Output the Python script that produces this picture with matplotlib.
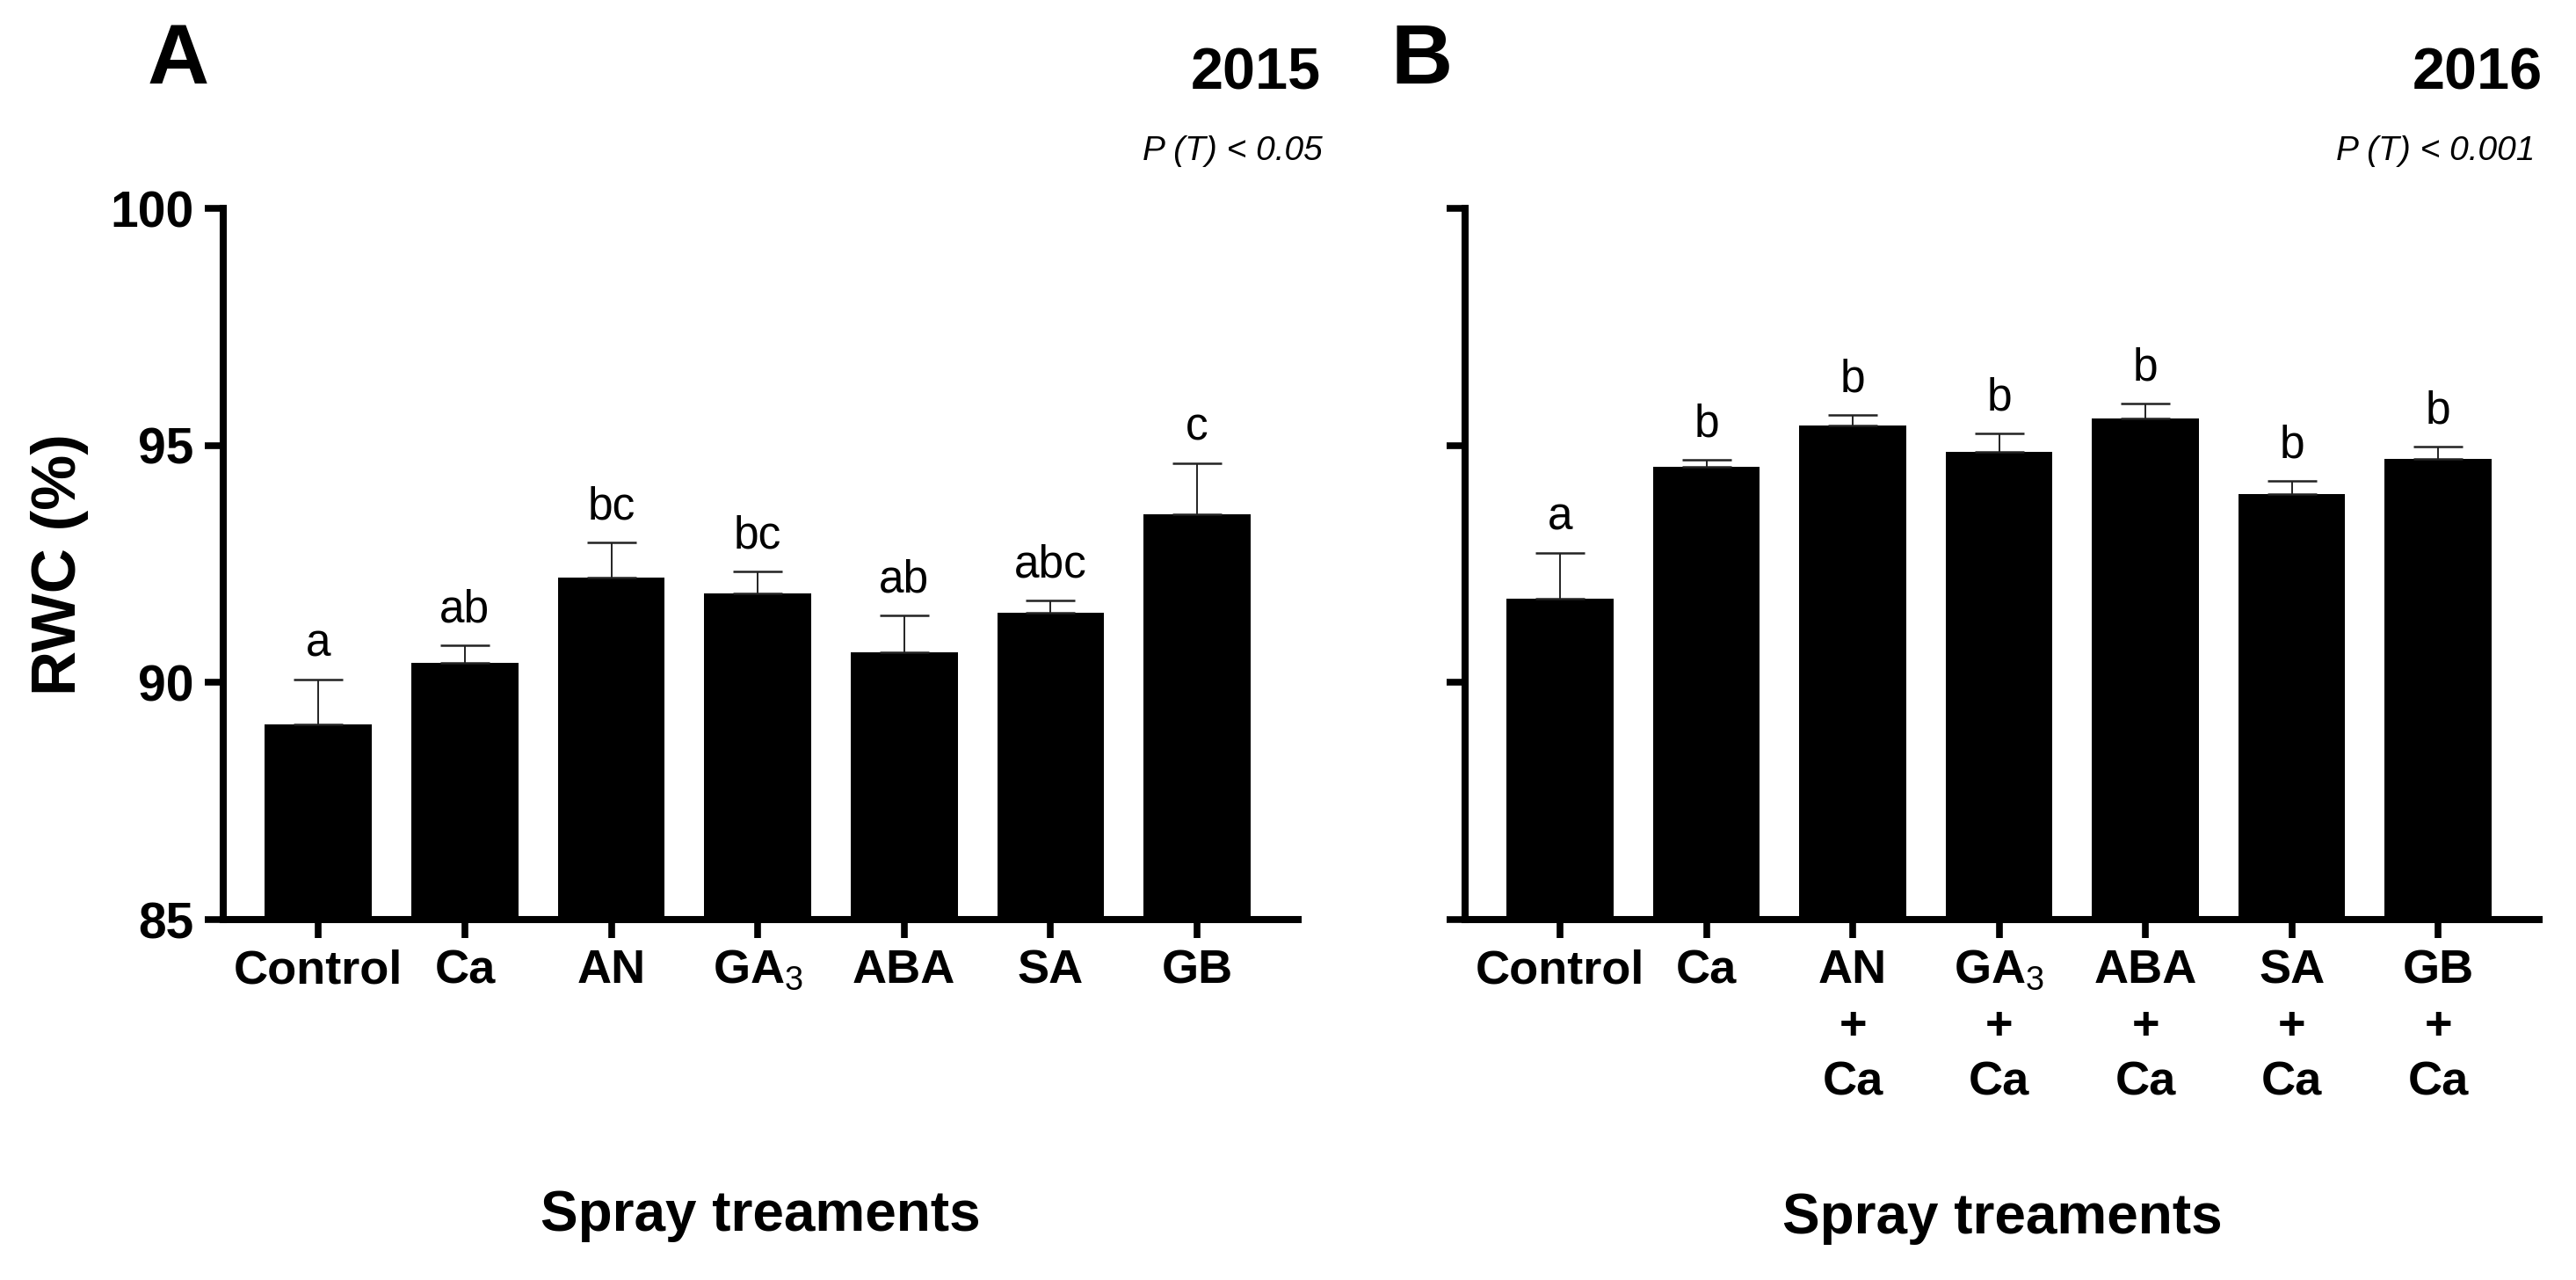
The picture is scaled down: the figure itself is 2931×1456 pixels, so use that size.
import numpy as np
import matplotlib
matplotlib.use('Agg')
import matplotlib.pyplot as plt

plt.rcParams['font.family'] = ['Liberation Sans', 'DejaVu Sans']
plt.rcParams['mathtext.fontset'] = 'custom'
plt.rcParams['mathtext.rm'] = 'Liberation Sans'

# RWC (%) means and upper errors
labels_2015 = ['Control', 'Ca', 'AN', 'GA$_{\\rm 3}$', 'ABA', 'SA', 'GB']
rwc_2015 = [89.12, 90.41, 92.21, 91.88, 90.64, 91.48, 93.54]
err_2015 = [0.95, 0.37, 0.75, 0.47, 0.77, 0.25, 1.08]
letters_2015 = ['a', 'ab', 'bc', 'bc', 'ab', 'abc', 'c']

labels_2016 = ['Control', 'Ca', 'AN\n+\nCa', 'GA$_{\\rm 3}$\n+\nCa', 'ABA\n+\nCa',
               'SA\n+\nCa', 'GB\n+\nCa']
rwc_2016 = [91.77, 94.54, 95.42, 94.87, 95.57, 93.98, 94.72]
err_2016 = [0.96, 0.16, 0.22, 0.39, 0.32, 0.28, 0.25]
letters_2016 = ['a', 'b', 'b', 'b', 'b', 'b', 'b']

W, H = 2931, 1456
fig = plt.figure(figsize=(W / 100, H / 100), dpi=100)

ax_bottom = 1 - 1046 / H
ax_height = (1046 - 237) / H
axA = fig.add_axes([254 / W, ax_bottom, (1477 - 254) / W, ax_height])
axB = fig.add_axes([1667 / W, ax_bottom, (2889 - 1667) / W, ax_height])


def draw_panel(ax, labels, vals, errs, letters, show_ylabels):
    x = np.arange(len(vals))
    ax.bar(x, vals, width=0.73, color='black', zorder=2)
    ax.errorbar(x, vals, yerr=[np.zeros(len(errs)), errs], fmt='none',
                ecolor='#222222', elinewidth=1.4, capsize=20, capthick=1.8, zorder=3)
    for xi, v, e, t in zip(x, vals, errs, letters):
        ax.annotate(t, (xi, v + e), xytext=(0, 19), textcoords='offset points',
                    ha='center', va='baseline', fontsize=37)
    ax.set_xlim(-0.65, 6.69)
    ax.set_ylim(85, 100)
    ax.set_yticks([85, 90, 95, 100])
    ax.set_xticks(x)
    ax.set_xticklabels(labels, fontsize=39, fontweight='bold', linespacing=1.35)
    for s in ['top', 'right']:
        ax.spines[s].set_visible(False)
    for s in ['left', 'bottom']:
        ax.spines[s].set_linewidth(5.8)
    ax.tick_params(axis='both', length=15, width=5.5, pad=9)
    ax.tick_params(axis='y', labelsize=41)
    if show_ylabels:
        for lab in ax.get_yticklabels():
            lab.set_fontweight('bold')
    else:
        ax.tick_params(axis='y', labelleft=False)


draw_panel(axA, labels_2015, rwc_2015, err_2015, letters_2015, True)
draw_panel(axB, labels_2016, rwc_2016, err_2016, letters_2016, False)

fig.text(168 / W, 1 - 95 / H, 'A', fontsize=70, fontweight='bold', ha='left', va='baseline')
fig.text(1582 / W, 1 - 95 / H, 'B', fontsize=70, fontweight='bold', ha='left', va='baseline')
fig.text(1503 / W, 1 - 102 / H, '2015', fontsize=48, fontweight='bold', ha='right', va='baseline')
fig.text(2893 / W, 1 - 102 / H, '2016', fontsize=48, fontweight='bold', ha='right', va='baseline')
fig.text(1505 / W, 1 - 182 / H, 'P (T) < 0.05', fontsize=28, style='italic', ha='right', va='baseline')
fig.text(2884 / W, 1 - 182 / H, 'P (T) < 0.001', fontsize=28, style='italic', ha='right', va='baseline')

fig.text((254 + 1477) / 2 / W, 1 - 1400 / H, 'Spray treaments', fontsize=46,
         fontweight='bold', ha='center', va='baseline')
fig.text((1667 + 2889) / 2 / W, 1 - 1403 / H, 'Spray treaments', fontsize=46,
         fontweight='bold', ha='center', va='baseline')
fig.text(68 / W, 1 - 642 / H, 'RWC (%)', fontsize=51, fontweight='bold', rotation=90,
         ha='center', va='center')

fig.savefig('out.png', dpi=100)
